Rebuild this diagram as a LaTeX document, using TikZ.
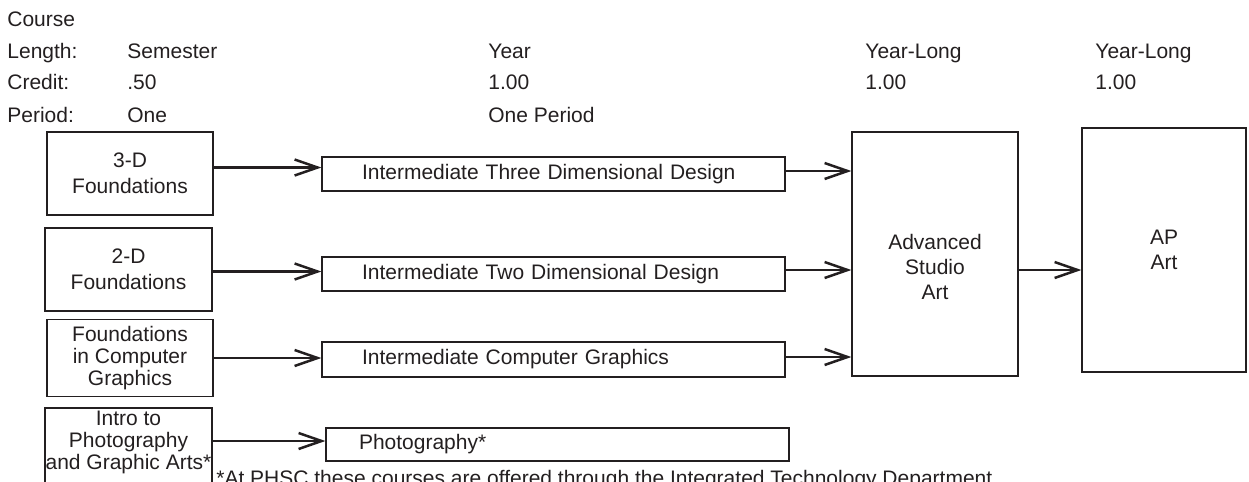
\documentclass[tikz,border=0pt]{standalone}
\usepackage{fontspec}
\setmainfont{Liberation Sans}
\usepackage{xcolor}
\usepackage{tikz}
\usetikzlibrary{arrows.meta, calc, positioning}

\definecolor{ink}{RGB}{35,31,32}

\tikzset{
  hdr/.style={anchor=base west, inner sep=0pt},
  fbox/.style={shape=rectangle, draw, line width=.6pt, minimum width=83pt, align=center, font=\fontsize{10.5}{12.75}\selectfont},
  ibox/.style={shape=rectangle, draw, line width=.6pt, text width=191.5pt, inner xsep=20pt, inner ysep=0pt, minimum height=17pt, align=left},
  bigbox/.style={shape=rectangle, draw, line width=.6pt, minimum height=122pt},
  flow/.style={-{Straight Barb[length=11.5pt,width=8pt]}, line width=1.25pt}
}

\begin{document}
\begin{tikzpicture}[x=0.5pt, y=-0.5pt, color=ink, font=\fontsize{10.5}{11}\selectfont]

\useasboundingbox (0,0) rectangle (1249,482);
\clip (0,0) rectangle (1249,482);

\node (hcourse) [hdr] at (7,26) {Course};
\node (hlength) [hdr] at (7,58) {Length:};
\node (hcredit) [hdr] at (7,90) {Credit:};
\node (hperiod) [hdr] at (7,122) {Period:};

\node (len1) [hdr] at (127,58) {Semester};
\node (cr1) [hdr] at (127,90) {.50};
\node (per1) [hdr] at (127,122) {One};

\node (len2) [hdr] at (488,58) {Year};
\node (cr2) [hdr] at (488,90) {1.00};
\node (per2) [hdr] at (488,122) {One Period};

\node (len3) [hdr] at (865,58) {Year-Long};
\node (cr3) [hdr] at (865,90) {1.00};

\node (len4) [hdr] at (1095,58) {Year-Long};
\node (cr4) [hdr] at (1095,90) {1.00};

\node (f3d) [fbox, minimum height=41.5pt] at (130,173.5) {3-D\\Foundations};
\node (f2d) [fbox, minimum height=41.5pt, minimum width=83.5pt] at (128.5,269.5) {2-D\\Foundations};
\node (fcg) [fbox, minimum height=36pt, font=\fontsize{10.5}{11}\selectfont] at (130,358) {Foundations\\in Computer\\Graphics};
\node (fph) [fbox, minimum height=46pt, minimum width=83.5pt,
  label={[anchor=north, align=center, inner sep=1.5pt, font=\fontsize{10.5}{11}\selectfont]north:Intro to\\Photography\\and Graphic Arts*}] at (128.5,454) {};

\node (i3d) [ibox] at (553.5,174) {Intermediate Three Dimensional Design};
\node (i2d) [ibox] at (553.5,274) {Intermediate Two Dimensional Design};
\node (icg) [ibox, minimum height=17.5pt] at (553.5,359.5) {Intermediate Computer Graphics};
\node (ph) [ibox, inner xsep=16.5pt, text width=198.5pt, minimum height=16.5pt] at (557.5,444.5) {Photography*};

\node (adv) [bigbox, minimum width=83pt,
  label={[align=center, yshift=-6.25pt, font=\fontsize{10.5}{12.5}\selectfont]center:Advanced\\Studio\\Art}] at (935,254) {};
\node (ap) [bigbox, minimum width=82pt, align=center, font=\fontsize{10.5}{12.5}\selectfont] at (1164,250) {AP\\Art};

\draw[flow] ([yshift=3pt]f3d.east) -- ([yshift=3pt]f3d.east -| i3d.west);
\draw[flow] ([yshift=-1pt]f2d.east) -- ([yshift=-1pt]f2d.east -| i2d.west);
\draw[flow] (fcg.east) -- (fcg.east -| icg.west);
\draw[flow] ([yshift=1.75pt]ph.west -| fph.east) -- ([yshift=1.75pt]ph.west);

\draw[flow] ([yshift=1.5pt]i3d.east) -- ([yshift=1.5pt]i3d.east -| adv.west);
\draw[flow] ([yshift=2pt]i2d.east) -- ([yshift=2pt]i2d.east -| adv.west);
\draw[flow] ([yshift=1.25pt]icg.east) -- ([yshift=1.25pt]icg.east -| adv.west);
\draw[flow] ([yshift=-8pt]adv.east) -- ([yshift=-8pt]adv.east -| ap.west);

\node (note) [hdr] at (216,485) {*At PHSC these courses are offered through the Integrated Technology Department};

\end{tikzpicture}
\end{document}
